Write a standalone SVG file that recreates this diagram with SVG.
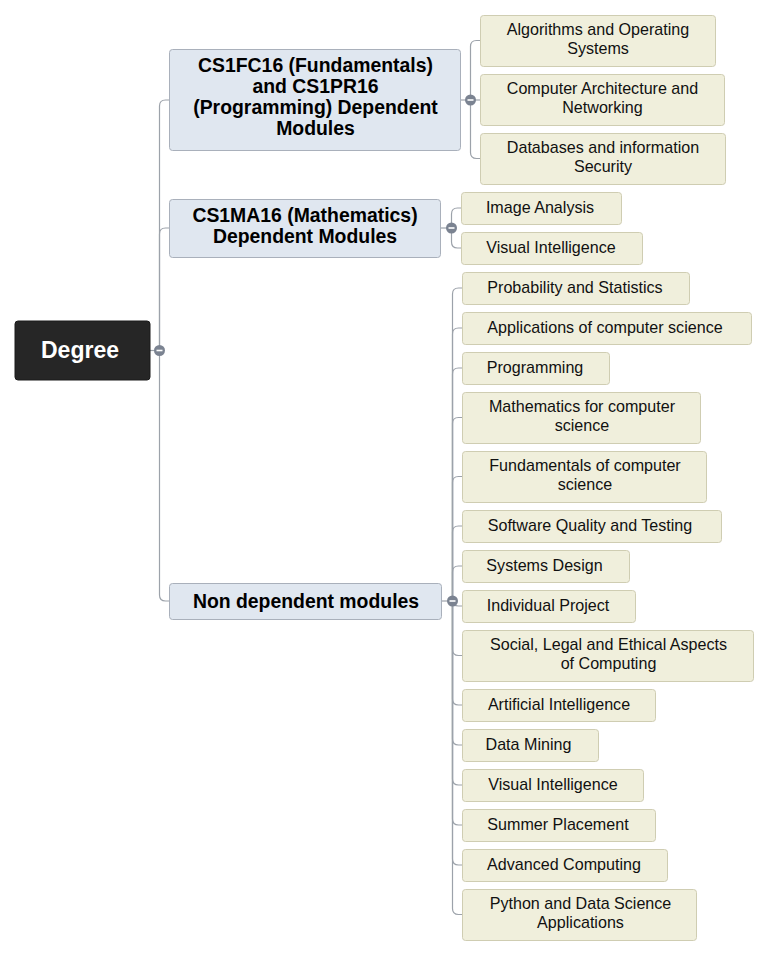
<svg xmlns="http://www.w3.org/2000/svg" width="768" height="955" viewBox="0 0 768 955">
<style>
.bg{fill:#ffffff}
.root rect{fill:#262626;stroke:#1a1a1a;stroke-width:1}
.root text{font-family:"Liberation Sans",Arial,sans-serif;font-weight:bold;font-size:23px;fill:#ffffff;text-anchor:middle}
.branch rect{fill:#e0e7f0;stroke:#a9b0bb;stroke-width:1}
.branch text{font-family:"Liberation Sans",Arial,sans-serif;font-weight:bold;font-size:19.4px;fill:#000000;text-anchor:middle}
.leaf rect{fill:#f0efdc;stroke:#cfcdb2;stroke-width:1}
.leaf text{font-family:"Liberation Sans",Arial,sans-serif;font-size:16.1px;fill:#111111;text-anchor:middle}
.conn path{fill:none;stroke:#9ca2aa;stroke-width:1.2}
.knob circle{fill:#7b8391}
.knob line{stroke:#ffffff;stroke-width:1.6}
</style>
<rect class="bg" x="0" y="0" width="768" height="955"/>

<g id="connectors" class="conn">
  <path d="M150 350.5 H159.5"/>
  <path d="M159.5 350.5 V106 Q159.5 100 165.5 100 H169"/>
  <path d="M159.5 350.5 V234 Q159.5 228 165.5 228 H169"/>
  <path d="M159.5 350.5 V595 Q159.5 601 165.5 601 H169"/>
  <path d="M461 100 H470.5"/>
  <path d="M470.5 100 V46.5 Q470.5 40.5 476.5 40.5 H480"/>
  <path d="M470.5 100 H480"/>
  <path d="M470.5 100 V152.5 Q470.5 158.5 476.5 158.5 H480"/>
  <path d="M441 228 H451.5"/>
  <path d="M451.5 228 V214 Q451.5 208 457.5 208 H461"/>
  <path d="M451.5 228 V242 Q451.5 248 457.5 248 H461"/>
  <path d="M442 601 H452.5"/>
  <path d="M452.5 601 V294 Q452.5 288 458.5 288 H462"/>
  <path d="M452.5 601 V334 Q452.5 328 458.5 328 H462"/>
  <path d="M452.5 601 V374 Q452.5 368 458.5 368 H462"/>
  <path d="M452.5 601 V423.5 Q452.5 417.5 458.5 417.5 H462"/>
  <path d="M452.5 601 V482.5 Q452.5 476.5 458.5 476.5 H462"/>
  <path d="M452.5 601 V532 Q452.5 526 458.5 526 H462"/>
  <path d="M452.5 601 V572 Q452.5 566 458.5 566 H462"/>
  <path d="M452.5 601 Q452.5 606 458.5 606 H462"/>
  <path d="M452.5 601 V649.5 Q452.5 655.5 458.5 655.5 H462"/>
  <path d="M452.5 601 V699 Q452.5 705 458.5 705 H462"/>
  <path d="M452.5 601 V739 Q452.5 745 458.5 745 H462"/>
  <path d="M452.5 601 V779 Q452.5 785 458.5 785 H462"/>
  <path d="M452.5 601 V819 Q452.5 825 458.5 825 H462"/>
  <path d="M452.5 601 V859 Q452.5 865 458.5 865 H462"/>
  <path d="M452.5 601 V908.5 Q452.5 914.5 458.5 914.5 H462"/>
</g>

<g id="node-degree" class="root">
  <rect x="15" y="321" width="135" height="59" rx="3"/>
  <text x="80" y="358">Degree</text>
</g>

<g id="node-b1" class="branch">
  <rect x="169.5" y="49.5" width="291" height="101" rx="3"/>
  <text x="315.5" y="72">CS1FC16 (Fundamentals)</text>
  <text x="315.5" y="93">and CS1PR16</text>
  <text x="315.5" y="114">(Programming) Dependent</text>
  <text x="315.5" y="135">Modules</text>
</g>
<g id="node-b2" class="branch">
  <rect x="169.5" y="199.5" width="271" height="58" rx="3"/>
  <text x="305" y="222">CS1MA16 (Mathematics)</text>
  <text x="305" y="243">Dependent Modules</text>
</g>
<g id="node-b3" class="branch">
  <rect x="169.5" y="583.5" width="272" height="36" rx="3"/>
  <text x="306" y="607.5">Non dependent modules</text>
</g>

<g id="node-aos" class="leaf"><rect x="480.5" y="15.5" width="235" height="51" rx="3"/><text x="598" y="35">Algorithms and Operating</text><text x="598" y="54">Systems</text></g>
<g id="node-can" class="leaf"><rect x="480.5" y="74.5" width="244" height="51" rx="3"/><text x="602.5" y="94">Computer Architecture and</text><text x="602.5" y="113">Networking</text></g>
<g id="node-dis" class="leaf"><rect x="480.5" y="133.5" width="245" height="51" rx="3"/><text x="603" y="153">Databases and information</text><text x="603" y="172">Security</text></g>

<g id="node-ia" class="leaf"><rect x="461.5" y="192.5" width="160" height="32" rx="3"/><text x="540" y="212.5">Image Analysis</text></g>
<g id="node-vi1" class="leaf"><rect x="461.5" y="232.5" width="181" height="32" rx="3"/><text x="551" y="252.5">Visual Intelligence</text></g>

<g id="node-ps" class="leaf"><rect x="462.5" y="272.5" width="227" height="32" rx="3"/><text x="575" y="292.5">Probability and Statistics</text></g>
<g id="node-acs" class="leaf"><rect x="462.5" y="312.5" width="289" height="32" rx="3"/><text x="605" y="332.5">Applications of computer science</text></g>
<g id="node-prog" class="leaf"><rect x="462.5" y="352.5" width="147" height="32" rx="3"/><text x="535" y="372.5">Programming</text></g>
<g id="node-mcs" class="leaf"><rect x="462.5" y="392.5" width="238" height="51" rx="3"/><text x="582" y="412">Mathematics for computer</text><text x="582" y="431">science</text></g>
<g id="node-fcs" class="leaf"><rect x="462.5" y="451.5" width="244" height="51" rx="3"/><text x="585" y="471">Fundamentals of computer</text><text x="585" y="490">science</text></g>
<g id="node-sqt" class="leaf"><rect x="462.5" y="510.5" width="259" height="32" rx="3"/><text x="590" y="530.5">Software Quality and Testing</text></g>
<g id="node-sd" class="leaf"><rect x="462.5" y="550.5" width="167" height="32" rx="3"/><text x="544.5" y="570.5">Systems Design</text></g>
<g id="node-ip" class="leaf"><rect x="462.5" y="590.5" width="173" height="32" rx="3"/><text x="548" y="610.5">Individual Project</text></g>
<g id="node-sle" class="leaf"><rect x="462.5" y="630.5" width="291" height="51" rx="3"/><text x="608.5" y="650">Social, Legal and Ethical Aspects</text><text x="608.5" y="669">of Computing</text></g>
<g id="node-ai" class="leaf"><rect x="462.5" y="689.5" width="193" height="32" rx="3"/><text x="559" y="709.5">Artificial Intelligence</text></g>
<g id="node-dm" class="leaf"><rect x="462.5" y="729.5" width="136" height="32" rx="3"/><text x="528.5" y="749.5">Data Mining</text></g>
<g id="node-vi2" class="leaf"><rect x="462.5" y="769.5" width="181" height="32" rx="3"/><text x="553" y="789.5">Visual Intelligence</text></g>
<g id="node-sp" class="leaf"><rect x="462.5" y="809.5" width="193" height="32" rx="3"/><text x="558" y="829.5">Summer Placement</text></g>
<g id="node-ac" class="leaf"><rect x="462.5" y="849.5" width="205" height="32" rx="3"/><text x="564" y="869.5">Advanced Computing</text></g>
<g id="node-pds" class="leaf"><rect x="462.5" y="889.5" width="234" height="51" rx="3"/><text x="580.5" y="909">Python and Data Science</text><text x="580.5" y="928">Applications</text></g>

<g id="knobs" class="knob">
  <circle cx="159.5" cy="350.5" r="5.5"/><line x1="156.5" y1="350.5" x2="162.5" y2="350.5"/>
  <circle cx="470.5" cy="100" r="5.5"/><line x1="467.5" y1="100" x2="473.5" y2="100"/>
  <circle cx="451.5" cy="228" r="5.5"/><line x1="448.5" y1="228" x2="454.5" y2="228"/>
  <circle cx="452.5" cy="601" r="5.5"/><line x1="449.5" y1="601" x2="455.5" y2="601"/>
</g>
</svg>
